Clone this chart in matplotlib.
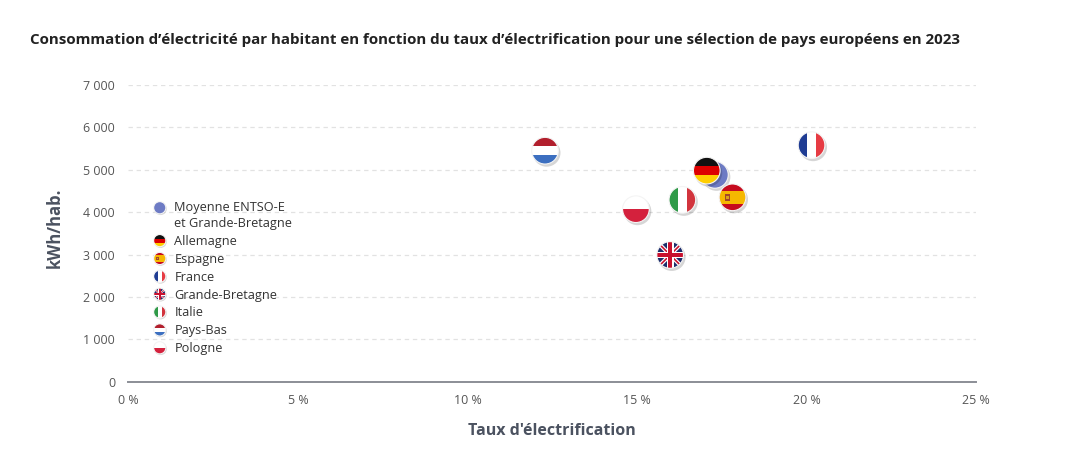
import numpy as np
import matplotlib
matplotlib.use("Agg")
import matplotlib.pyplot as plt
from matplotlib.patches import Circle, Rectangle, Polygon
from matplotlib.offsetbox import DrawingArea, AnnotationBbox
from matplotlib.legend_handler import HandlerBase
from matplotlib.ticker import FuncFormatter, MultipleLocator

# ---------------- data ----------------
codes = ["avg", "NL", "FR", "DE", "ES", "IT", "PL", "UK"]
labels = ["Moyenne ENTSO-E\net Grande-Bretagne", "Pays-Bas", "France", "Allemagne",
          "Espagne", "Italie", "Pologne", "Grande-Bretagne"]
electrification_rate = [17.30, 12.29, 20.15, 17.06, 17.82, 16.34, 14.97, 15.98]   # %
consumption_kwh = [4880, 5450, 5580, 4980, 4350, 4290, 4070, 2990]               # kWh/hab.

legend_order = ["avg", "DE", "ES", "FR", "UK", "IT", "NL", "PL"]

title = "Consommation d’électricité par habitant en fonction du taux d’électrification pour une sélection de pays européens en 2023"
xlabel = "Taux d'électrification"
ylabel = "kWh/hab."

FONT = "Open Sans"
plt.rcParams["font.family"] = [FONT, "DejaVu Sans"]

# ---------------- flag drawing ----------------
def band(p0, p1, hw):
    p0 = np.asarray(p0, float); p1 = np.asarray(p1, float)
    d = p1 - p0
    n = np.array([-d[1], d[0]]) / np.hypot(*d) * hw
    return [p0 + n, p1 + n, p1 - n, p0 - n]


def flag_artists(code, cx, cy, r, trans, shadow=True):
    arts = []
    if shadow:
        arts.append(Circle((cx + 0.12 * r, cy - 0.16 * r), r * 1.04, facecolor="#000000",
                           alpha=0.16, edgecolor="none", transform=trans))
    clip = Circle((cx, cy), r, transform=trans, facecolor="none", edgecolor="none")
    x0, y0, s = cx - r, cy - r, 2 * r
    fill = []
    if code == "avg":
        fill.append(Rectangle((x0, y0), s, s, facecolor="#6d7bc4"))
    elif code == "DE":
        for i, c in enumerate(["#ffce00", "#dd0000", "#111111"]):
            fill.append(Rectangle((x0, y0 + i * s / 3), s, s / 3 + 0.01, facecolor=c))
    elif code == "NL":
        for i, c in enumerate(["#3c6fc0", "#ffffff", "#b21f2d"]):
            fill.append(Rectangle((x0, y0 + i * s / 3), s, s / 3 + 0.01, facecolor=c))
    elif code == "FR":
        for i, c in enumerate(["#1f3c93", "#ffffff", "#e63b43"]):
            fill.append(Rectangle((x0 + i * s / 3, y0), s / 3 + 0.01, s, facecolor=c))
    elif code == "IT":
        for i, c in enumerate(["#2f9a48", "#ffffff", "#d2343d"]):
            fill.append(Rectangle((x0 + i * s / 3, y0), s / 3 + 0.01, s, facecolor=c))
    elif code == "PL":
        fill.append(Rectangle((x0, y0), s, s / 2, facecolor="#d4213d"))
        fill.append(Rectangle((x0, y0 + s / 2), s, s / 2, facecolor="#ffffff"))
    elif code == "ES":
        fill.append(Rectangle((x0, y0), s, s, facecolor="#c60b1e"))
        fill.append(Rectangle((x0, y0 + s / 4), s, s / 2, facecolor="#f5b800"))
        fill.append(Rectangle((cx - 0.55 * r, cy - 0.25 * r), 0.35 * r, 0.5 * r,
                              facecolor="#a4462a"))
        fill.append(Rectangle((cx - 0.48 * r, cy - 0.12 * r), 0.2 * r, 0.24 * r,
                              facecolor="#d9a21a"))
    elif code == "UK":
        fill.append(Rectangle((x0, y0), s, s, facecolor="#1c2d6b"))
        for a, b in [((x0, y0), (x0 + s, y0 + s)), ((x0, y0 + s), (x0 + s, y0))]:
            fill.append(Polygon(band(a, b, 0.15 * r), facecolor="#ffffff"))
            fill.append(Polygon(band(a, b, 0.06 * r), facecolor="#c8102e"))
        fill.append(Rectangle((x0, cy - 0.26 * r), s, 0.52 * r, facecolor="#ffffff"))
        fill.append(Rectangle((cx - 0.26 * r, y0), 0.52 * r, s, facecolor="#ffffff"))
        fill.append(Rectangle((x0, cy - 0.15 * r), s, 0.3 * r, facecolor="#c8102e"))
        fill.append(Rectangle((cx - 0.15 * r, y0), 0.3 * r, s, facecolor="#c8102e"))
    for p in fill:
        p.set_edgecolor("none")
        p.set_linewidth(0)
        p.set_transform(trans)
        p.set_clip_path(clip)
        arts.append(p)
    border = Circle((cx, cy), r, facecolor="none", edgecolor="#f4f4f4", linewidth=0.8,
                    transform=trans)
    arts.append(clip)
    arts.append(border)
    return arts


class FlagHandle:
    def __init__(self, code, multiline=False):
        self.code = code
        self.multiline = multiline


class FlagHandler(HandlerBase):
    def create_artists(self, legend, orig_handle, xdescent, ydescent, width, height,
                       fontsize, trans):
        r = 4.4
        cx = width / 2 - xdescent
        cy = height / 2 - ydescent
        if orig_handle.multiline:
            cy += fontsize * 0.66
        return flag_artists(orig_handle.code, cx, cy, r, trans, shadow=True)


# ---------------- figure ----------------
W, H = 1090, 467
fig = plt.figure(figsize=(W / 100, H / 100), dpi=100)
fig.patch.set_facecolor("white")

ax_l, ax_r, ax_b, ax_t = 128.3, 976.0, 381.7, 85.0
ax = fig.add_axes([ax_l / W, 1 - ax_b / H, (ax_r - ax_l) / W, (ax_b - ax_t) / H])

ax.set_xlim(0, 25)
ax.set_ylim(0, 7000)
ax.xaxis.set_major_locator(MultipleLocator(5))
ax.yaxis.set_major_locator(MultipleLocator(1000))
ax.xaxis.set_major_formatter(FuncFormatter(lambda v, p: f"{v:.0f} %"))
ax.yaxis.set_major_formatter(FuncFormatter(lambda v, p: f"{v:,.0f}".replace(",", " ")))

for s in ["top", "right", "left"]:
    ax.spines[s].set_visible(False)
ax.spines["bottom"].set_color("#8b8e96")
ax.spines["bottom"].set_linewidth(1.4)
ax.spines["bottom"].set_zorder(3)

ax.tick_params(axis="both", length=0, labelsize=8.9, labelcolor="#555555")
ax.tick_params(axis="x", pad=9)
ax.tick_params(axis="y", pad=9.5)
ax.grid(axis="y", color="#e2e2e2", linewidth=0.9, linestyle=(0, (3.5, 3)))
ax.set_axisbelow(True)

ax.set_xlabel(xlabel, fontsize=11.5, fontweight="bold", color="#4b5260")
ax.xaxis.set_label_coords(0.5, -(431 - ax_b) / (ax_b - ax_t))
ax.xaxis.label.set_va("center")
ax.set_ylabel(ylabel, fontsize=12.0, fontweight="bold", color="#4b5260")
ax.yaxis.set_label_coords(-(128.3 - 55) / (ax_r - ax_l), 0.52)
ax.yaxis.label.set_va("center")

fig.text(30 / W, 1 - 40 / H, title, fontsize=10.9, fontweight="bold", color="#222222",
         ha="left", va="center")

# markers (flags) positioned in data coordinates
R_PT = 9.6
for code, xv, yv in zip(codes, electrification_rate, consumption_kwh):
    da = DrawingArea(2 * R_PT, 2 * R_PT, 0, 0, clip=False)
    for a in flag_artists(code, R_PT, R_PT, R_PT, da.get_transform()):
        da.add_artist(a)
    ab = AnnotationBbox(da, (xv, yv), xycoords="data", frameon=False,
                        box_alignment=(0.5, 0.5), pad=0)
    ax.add_artist(ab)

# legend
lab_of = dict(zip(codes, labels))
handles = [FlagHandle(c, multiline=("\n" in lab_of[c])) for c in legend_order]
leg = ax.legend(handles, [lab_of[c] for c in legend_order],
                handler_map={FlagHandle: FlagHandler()},
                loc="upper left", bbox_to_anchor=((154 - ax_l) / (ax_r - ax_l), (ax_b - 201) / (ax_b - ax_t)),
                frameon=False, fontsize=9.2, labelcolor="#333333",
                handlelength=0.9, handleheight=0.85, handletextpad=0.7,
                labelspacing=0.38, borderpad=0, borderaxespad=0)
for t in leg.get_texts():
    t.set_linespacing(1.32)

fig.savefig("out.png", dpi=100, facecolor="white")
